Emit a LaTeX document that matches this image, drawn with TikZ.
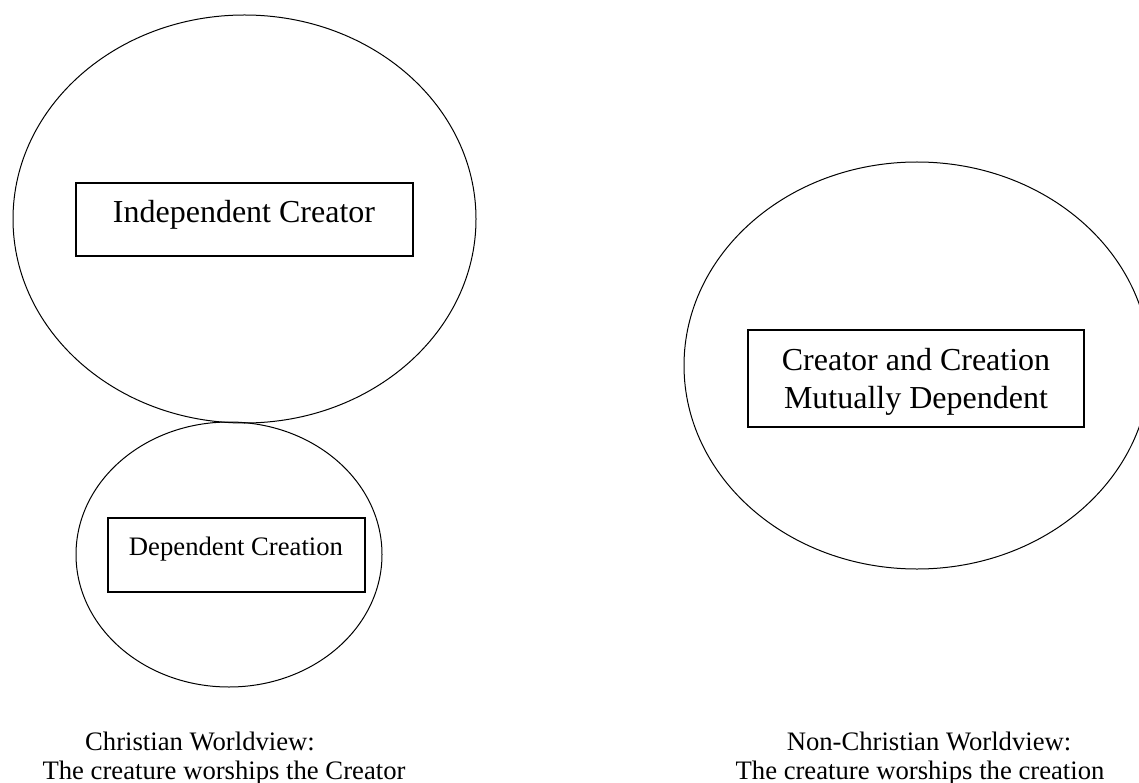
\documentclass[tikz,border=0pt]{standalone}
\usepackage{fontspec}
\setmainfont{Liberation Serif}
\usetikzlibrary{shapes.geometric}
\tikzset{
  oval/.style={draw, ellipse, inner sep=0pt, line width=1.0pt},
  framebox/.style={draw, rectangle, inner sep=0pt, line width=1.3pt},
  bigtext/.style={anchor=base, inner sep=0pt, font=\fontsize{32}{38}\selectfont},
  smalltext/.style={anchor=base, inner sep=0pt, font=\fontsize{26.67}{31}\selectfont}
}
\begin{document}
\begin{tikzpicture}[x=1pt,y=-1pt]
\useasboundingbox (0,0) rectangle (1139,783);
% ellipses
\node[oval, minimum width=463pt, minimum height=408pt] (big) at (244.5,219) {};
\node[oval, minimum width=306pt, minimum height=265pt] (small) at (229,554.5) {};
\node[oval, minimum width=466pt, minimum height=407pt] (right) at (917,365.5) {};
% boxes
\node[framebox, minimum width=337pt, minimum height=73pt] (creatorbox) at (244.5,219.5) {};
\node[framebox, minimum width=257pt, minimum height=74pt] (creationbox) at (236.5,555) {};
\node[framebox, minimum width=336pt, minimum height=97pt] (mutualbox) at (916,378.5) {};
% box texts
\node[bigtext] (creator) at (244,223) {Independent Creator};
\node[smalltext] (creation) at (236,555) {Dependent Creation};
\node[bigtext] (mutual1) at (916,370) {Creator and Creation};
\node[bigtext] (mutual2) at (916,408) {Mutually Dependent};
% captions
\node[smalltext] (leftcap1) at (200,750) {Christian Worldview:};
\node[smalltext] (leftcap2) at (224,779) {The creature worships the Creator};
\node[smalltext] (rightcap1) at (929,750) {Non-Christian Worldview:};
\node[smalltext] (rightcap2) at (920,779) {The creature worships the creation};
\end{tikzpicture}
\end{document}
